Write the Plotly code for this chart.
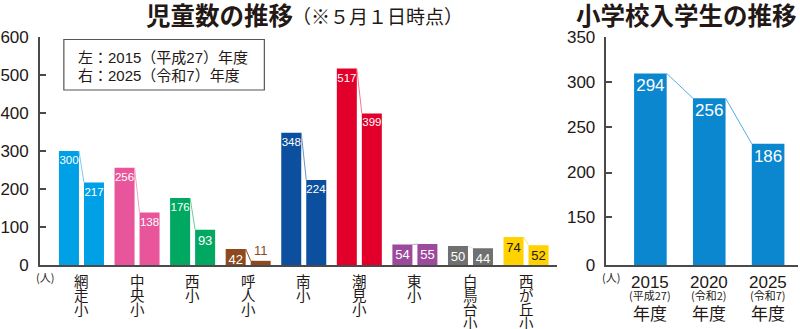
import plotly.graph_objects as go

# ---------------- data ----------------
schools = ["網走小", "中央小", "西小", "呼人小", "南小", "潮見小", "東小", "白鳥台小", "西が丘小"]
pupils_2015 = [300, 256, 176, 42, 348, 517, 54, 50, 74]
pupils_2025 = [217, 138, 93, 11, 224, 399, 55, 44, 52]
school_colors = ["#00A0E6", "#E8559A", "#00A862", "#8C4A1E", "#0B4F9E",
                 "#E2002B", "#9B4A9E", "#707070", "#FFD200"]
link_colors = ["#7CCBF0", "#F2A2C6", "#6CCB9C", "#8C4A1E", "#6F95C8",
               "#F07A90", "#C79BC9", "#E0E0E0", "#FFE26A"]
text_dark = ["#FFFFFF"] * 8 + ["#231815"]

years = ["2015", "2020", "2025"]
eras = ["(平成27)", "(令和2)", "(令和7)"]
entrants = [294, 256, 186]

left_ticks = [0, 100, 200, 300, 400, 500, 600]
right_tick_labels = ["0", "150", "200", "250", "300", "350"]
right_tick_pos = [0, 73, 142, 212, 281, 350]

legend_lines = ["左：2015（平成27）年度", "右：2025（令和7）年度"]
title_left = "児童数の推移"
title_left_note = "（※５月１日時点）"
title_right = "小学校入学生の推移"
unit = "(人)"

# ---------------- layout constants ----------------
W, H = 800, 329
TOP, BASE = 37, 265
CJK = "Noto Sans CJK JP"
LAT = "Liberation Sans, Noto Sans CJK JP"
INK = "#231815"
AXIS = "#4a4a4a"


def py(y):
    return (BASE - y) / (BASE - TOP)


BW, OFF = 0.36, 0.045
RBW = 0.554

fig = go.Figure()

# left chart bars
for vals, off in ((pupils_2015, -OFF - BW), (pupils_2025, OFF)):
    pos = ["outside" if v < 20 else "inside" for v in vals]
    tcol = [school_colors[i] if pos[i] == "outside" else text_dark[i] for i in range(len(vals))]
    sizes = [11.5 if len(str(v)) >= 3 else 13 for v in vals]
    fig.add_trace(go.Bar(
        x=list(range(len(schools))), y=vals, width=BW, offset=off,
        marker=dict(color=school_colors, line=dict(width=0)),
        text=[str(v) for v in vals], textposition=pos, insidetextanchor="end", textangle=0,
        textfont=dict(family=LAT, size=sizes, color=tcol),
        constraintext="none", cliponaxis=False,
        xaxis="x", yaxis="y", showlegend=False, hoverinfo="skip"))

# connectors
for i in range(len(schools)):
    fig.add_trace(go.Scatter(
        x=[i - OFF, i + OFF], y=[pupils_2015[i], pupils_2025[i]], mode="lines",
        line=dict(color=link_colors[i], width=1), xaxis="x", yaxis="y",
        showlegend=False, hoverinfo="skip"))

# right chart
fig.add_trace(go.Bar(
    x=list(range(len(years))), y=entrants, width=RBW,
    marker=dict(color="#0A87CE", line=dict(width=0)),
    text=[str(v) for v in entrants], textposition="inside", insidetextanchor="end", textangle=0,
    textfont=dict(family=LAT, size=17, color="white"), constraintext="none",
    xaxis="x2", yaxis="y2", showlegend=False, hoverinfo="skip"))
for i in range(len(years) - 1):
    fig.add_trace(go.Scatter(
        x=[i + RBW / 2, i + 1 - RBW / 2], y=[entrants[i], entrants[i + 1]], mode="lines",
        line=dict(color="#55AEE3", width=1), xaxis="x2", yaxis="y2",
        showlegend=False, hoverinfo="skip"))

ann = []
# vertical school labels
for i, name in enumerate(schools):
    for k, ch in enumerate(name):
        ann.append(dict(xref="x", x=i, yref="paper", y=0, yanchor="middle",
                        yshift=-(15 + 14.3 * k), text=ch, showarrow=False,
                        font=dict(family=CJK, size=14.5, color=INK)))
# right labels
for i in range(len(years)):
    ann.append(dict(xref="x2", x=i, yref="paper", y=0, yanchor="middle", yshift=-17,
                    text=years[i], showarrow=False, font=dict(family=LAT, size=17, color=INK)))
    ann.append(dict(xref="x2", x=i, yref="paper", y=0, yanchor="middle", yshift=-30,
                    text=eras[i], showarrow=False, font=dict(family=CJK, size=11, color=INK)))
    ann.append(dict(xref="x2", x=i, yref="paper", y=0, yanchor="middle", yshift=-47,
                    text="年度", showarrow=False, font=dict(family=CJK, size=17, color=INK)))
# unit labels
for xr in ("x domain", "x2 domain"):
    ann.append(dict(xref=xr, x=0, xshift=-6, yref="paper", y=0, yanchor="middle", yshift=-12,
                    text=unit, showarrow=False, font=dict(family=CJK, size=11, color=INK)))
# legend text
for k, line in enumerate(legend_lines):
    ann.append(dict(xref="paper", x=74 / W, xanchor="left", yref="paper",
                    y=py(57 + 18.5 * k), yanchor="middle", text=line, showarrow=False,
                    font=dict(family=LAT, size=15, color=INK)))
# titles
ann.append(dict(xref="paper", x=142 / W, xanchor="left", yref="paper", y=py(14), yanchor="middle",
                text=f"<b>{title_left}</b>", showarrow=False,
                font=dict(family=CJK, size=24.5, color=INK)))
ann.append(dict(xref="paper", x=289 / W, xanchor="left", yref="paper", y=py(15.5), yanchor="middle",
                text=title_left_note, showarrow=False,
                font=dict(family=CJK, size=19, color=INK)))
ann.append(dict(xref="paper", x=686 / W, xanchor="center", yref="paper", y=py(14.5), yanchor="middle",
                text=f"<b>{title_right}</b>", showarrow=False,
                font=dict(family=CJK, size=24.5, color=INK)))

shapes = [dict(type="rect", xref="paper", yref="paper", x0=62 / W, x1=263 / W,
               y0=py(39.5), y1=py(90), line=dict(color="#555", width=1.2), fillcolor="white",
               layer="below")]

fig.update_layout(
    width=W, height=H, margin=dict(l=0, r=0, t=TOP, b=H - BASE),
    paper_bgcolor="white", plot_bgcolor="white",
    barmode="overlay",
    xaxis=dict(domain=[38 / W, 556 / W], range=[-0.748, 8.55], showline=True, linecolor=AXIS,
               linewidth=2, showticklabels=False, ticks="", showgrid=False, zeroline=False,
               anchor="y", fixedrange=True),
    yaxis=dict(domain=[0, 1], range=[0, 600], tickvals=left_ticks, ticks="inside", ticklen=6,
               tickwidth=1.5, tickcolor=AXIS, showline=True, linecolor=AXIS, linewidth=1.5,
               showgrid=False, zeroline=False, anchor="x", ticklabelstandoff=6,
               tickfont=dict(family=LAT, size=17, color=INK), fixedrange=True),
    xaxis2=dict(domain=[606 / W, 798 / W], range=[-0.746, 2.508], showline=True, linecolor=AXIS,
                linewidth=2, showticklabels=False, ticks="", showgrid=False, zeroline=False,
                anchor="y2", fixedrange=True),
    yaxis2=dict(domain=[0, 1], range=[0, 350], tickvals=right_tick_pos, ticktext=right_tick_labels,
                ticks="inside", ticklen=6, tickwidth=1.5, tickcolor=AXIS, showline=True,
                linecolor=AXIS, linewidth=1.5, showgrid=False, zeroline=False, anchor="x2",
                ticklabelstandoff=6, tickfont=dict(family=LAT, size=17, color=INK), fixedrange=True),
    annotations=ann, shapes=shapes,
)

fig.write_html("out.html")
